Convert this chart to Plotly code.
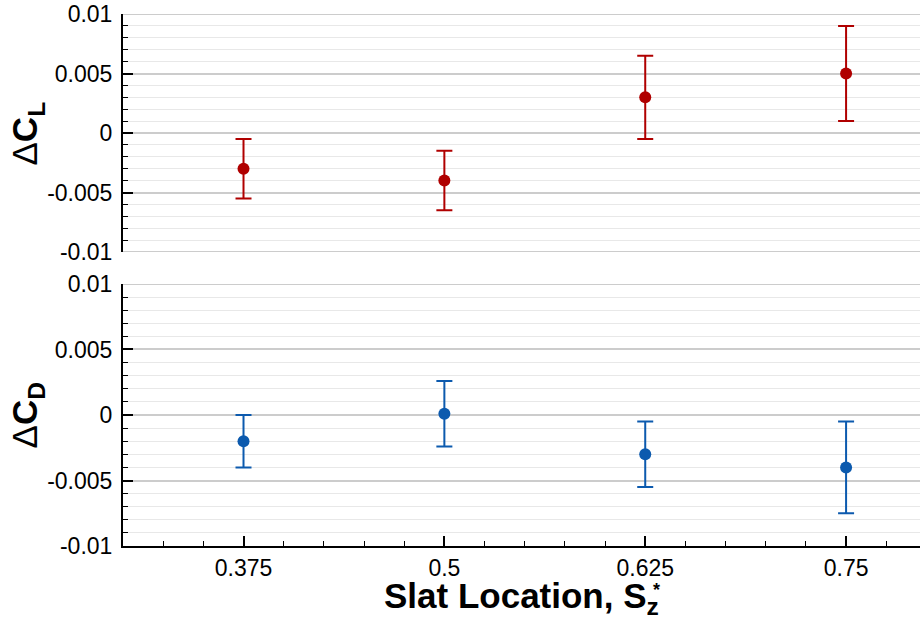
import plotly.graph_objects as go
from plotly.subplots import make_subplots

# Slat spanwise locations
slat_location = [0.375, 0.5, 0.625, 0.75]

# Lift coefficient increments and their uncertainties
delta_cl = [-0.003, -0.004, 0.003, 0.005]
delta_cl_err = [0.0025, 0.0025, 0.0035, 0.004]

# Drag coefficient increments and their uncertainties
delta_cd = [-0.002, 0.0001, -0.003, -0.004]
delta_cd_err = [0.002, 0.0025, 0.0025, 0.0035]

RED = "#b00000"
BLUE = "#0c5aae"
FONT = "Liberation Sans, Arial, sans-serif"
MAJOR_GRID = "#cccccc"

fig = make_subplots(rows=2, cols=1, shared_xaxes=True, vertical_spacing=0.06)

fig.add_trace(go.Scatter(
    x=slat_location, y=delta_cl, mode="markers",
    marker=dict(color=RED, size=12),
    error_y=dict(type="data", array=delta_cl_err, color=RED, thickness=2, width=8),
    showlegend=False), row=1, col=1)

fig.add_trace(go.Scatter(
    x=slat_location, y=delta_cd, mode="markers",
    marker=dict(color=BLUE, size=12),
    error_y=dict(type="data", array=delta_cd_err, color=BLUE, thickness=2, width=8),
    showlegend=False), row=2, col=1)

y_range = [-0.01, 0.01]
yaxis_style = dict(
    range=y_range, tickvals=[-0.01, -0.005, 0, 0.005, 0.01],
    ticktext=["-0.01", "-0.005", "0", "0.005", "0.01"],
    showline=True, linecolor="black", linewidth=2,
    ticks="inside", ticklen=10, tickwidth=2, tickcolor="black",
    showgrid=True, gridcolor=MAJOR_GRID, gridwidth=2, zeroline=False,
    minor=dict(dtick=0.001, tick0=0, ticks="inside", ticklen=5, tickwidth=1,
               tickcolor="black", showgrid=True, gridcolor="#e8e8e8", gridwidth=1),
    tickfont=dict(family=FONT, size=23, color="black"),
    ticklabelstandoff=4,
)

fig.update_layout(
    width=920, height=628,
    margin=dict(l=123, r=0, t=14, b=82),
    plot_bgcolor="white", paper_bgcolor="white",
    font=dict(family=FONT, color="black"),
    yaxis=dict(domain=[0.5526, 1.0], **yaxis_style),
    yaxis2=dict(domain=[0.0, 0.4925], **yaxis_style),
    xaxis=dict(range=[0.3, 0.796], showline=False, ticks="", showticklabels=False,
               showgrid=False, zeroline=False),
    xaxis2=dict(range=[0.3, 0.796], tick0=0.375, dtick=0.125,
                showline=True, linecolor="black", linewidth=2,
                ticks="inside", ticklen=10, tickwidth=2, tickcolor="black",
                minor=dict(dtick=0.025, tick0=0.3, ticks="inside", ticklen=5,
                           tickwidth=1, tickcolor="black", showgrid=False),
                showgrid=False, zeroline=False,
                tickfont=dict(family=FONT, size=23, color="black")),
)

# Edge gridlines at the panel limits (top and bottom of the upper panel, top of the lower)
for yref, yv in [("y", y_range[0]), ("y", y_range[1]), ("y2", y_range[1])]:
    fig.add_shape(type="line", xref="x domain", yref=yref, x0=0, x1=1, y0=yv, y1=yv,
                  line=dict(color=MAJOR_GRID, width=2), layer="below")

title_font = dict(family=FONT, size=35, color="black")

annotations = [
    dict(text="Δ<b>C<sub>L</sub></b>", x=-0.12, y=0.776, textangle=-90),
    dict(text="Δ<b>C<sub>D</sub></b>", x=-0.12, y=0.246, textangle=-90),
    dict(text="<b>Slat Location, S<sub>z</sub></b>", x=0.5, y=-0.097),
]
for a in annotations:
    fig.add_annotation(xref="paper", yref="paper", xanchor="center", yanchor="middle",
                       showarrow=False, font=title_font, **a)

fig.add_annotation(text="<b>*</b>", xref="paper", yref="paper", x=0.669, y=-0.083,
                   xanchor="center", yanchor="middle", showarrow=False,
                   font=dict(family=FONT, size=18, color="black"))

fig.write_html("out.html")
